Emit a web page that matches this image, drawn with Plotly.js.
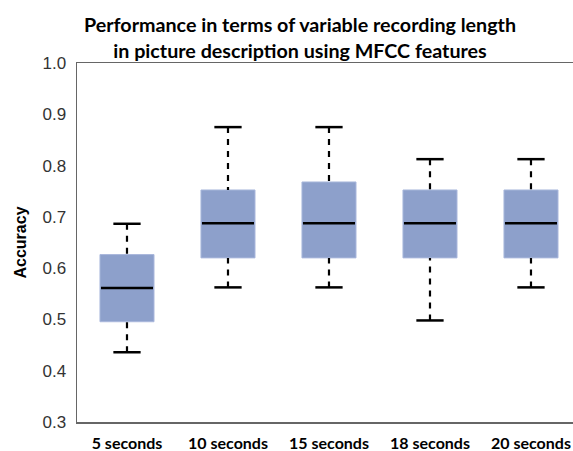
<!DOCTYPE html>
<html><head><meta charset="utf-8">
<script src="https://cdn.plot.ly/plotly-3.0.1.min.js"></script>
<style>html,body{margin:0;padding:0;background:#fff}</style>
</head><body><div id="chart" style="width:573px;height:451px"></div>
<script>
const categories = ["5 seconds","10 seconds","15 seconds","18 seconds","20 seconds"];
const lowerWhisker = [0.436, 0.5625, 0.5625, 0.498, 0.5625];
const q1 = [0.4955, 0.62, 0.62, 0.62, 0.62];
const median = [0.5614, 0.6875, 0.6875, 0.6875, 0.6875];
const q3 = [0.6265, 0.7524, 0.768, 0.7524, 0.7524];
const upperWhisker = [0.6865, 0.875, 0.875, 0.8125, 0.8125];

const idx = categories.map((c,i)=>i);
const boxW = 0.535, capW = 0.27;

const seg = (arr, half) => {
  const x=[], y=[];
  arr.forEach((v,i)=>{ x.push(i-half, i+half, null); y.push(v, v, null); });
  return {x, y};
};
const whisk = {x:[], y:[]};
idx.forEach(i=>{
  whisk.x.push(i,i,null,i,i,null);
  whisk.y.push(upperWhisker[i], q3[i], null, lowerWhisker[i], q1[i], null);
});
const medSeg = seg(median, boxW/2 - 0.01);
const capUp = seg(upperWhisker, capW/2);
const capLo = seg(lowerWhisker, capW/2);

const traces = [
  {type:'bar', x:idx, base:q1, y:q3.map((v,i)=>v-q1[i]), width:boxW,
   marker:{color:'#8da0cb', line:{color:'#a9b7dc', width:1}}, hoverinfo:'skip'},
  {type:'scatter', mode:'lines', x:whisk.x, y:whisk.y, line:{color:'#000', width:2.2, dash:'6px,6px'}, hoverinfo:'skip'},
  {type:'scatter', mode:'lines', x:medSeg.x, y:medSeg.y, line:{color:'#000', width:2.5}, hoverinfo:'skip'},
  {type:'scatter', mode:'lines', x:capUp.x, y:capUp.y, line:{color:'#000', width:2.5}, hoverinfo:'skip'},
  {type:'scatter', mode:'lines', x:capLo.x, y:capLo.y, line:{color:'#000', width:2.5}, hoverinfo:'skip'}
];

const layout = {
  width:573, height:451, showlegend:false,
  margin:{l:77, r:0, t:63, b:29, pad:0},
  paper_bgcolor:'#fff', plot_bgcolor:'#fff',
  title:{text:'Performance in terms of variable recording length<br>in picture description using MFCC features',
    font:{family:'Lato', size:19.7, color:'#000', weight:'bold'},
    x:300/573, xanchor:'center', xref:'container', y:1-32/451, yanchor:'middle', yref:'container'},
  xaxis:{range:[-0.495, 4.416], tickvals:idx, ticktext:categories, showgrid:false, zeroline:false,
    showline:true, mirror:true, linecolor:'#666', linewidth:1.5, ticks:'',
    tickfont:{family:'Lato', size:16, color:'#000', weight:'bold'}, ticklabelstandoff:6},
  yaxis:{range:[0.3, 1.0], dtick:0.1, tickformat:'.1f', showgrid:false, zeroline:false,
    showline:true, linecolor:'#666', linewidth:1.5, ticks:'',
    tickfont:{family:'Liberation Sans', size:17, color:'#333'}, ticklabelstandoff:6,
    title:{text:'Accuracy', font:{family:'Liberation Sans', size:16, color:'#000', weight:'bold'}, standoff:12}}
};
Plotly.newPlot('chart', traces, layout, {displayModeBar:false, staticPlot:true});
</script></body></html>
